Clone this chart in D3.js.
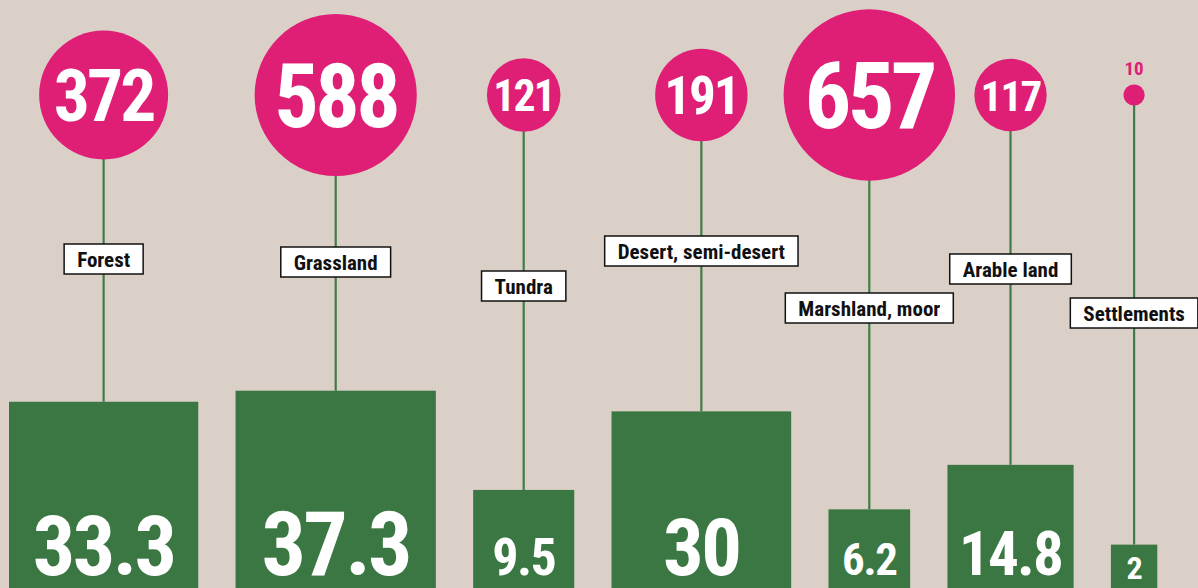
<!DOCTYPE html>
<html>
<head>
<meta charset="utf-8">
<script src="https://cdn.jsdelivr.net/npm/d3@7"></script>
<style>
  body { margin: 0; background: #dbd0c7; }
  svg { display: block; }
  text { font-family: "Liberation Sans Narrow", "Arial Narrow", "Roboto Condensed", sans-serif; font-weight: bold; }
</style>
</head>
<body>
<div id="chart"></div>
<script>
// Data
const categories = ["Forest", "Grassland", "Tundra", "Desert, semi-desert", "Marshland, moor", "Arable land", "Settlements"];
const areaShare = [33.3, 37.3, 9.5, 30, 6.2, 14.8, 2];          // green squares
const carbonStock = [372, 588, 121, 191, 657, 117, 10];         // pink circles

// layout for the name tags (centre y of each box)
const labelY = [259, 262, 286, 251, 308, 269, 313];

const width = 1198;
const height = 588;
const baseY = 591;      // squares run off the bottom edge a little
const circleY = 95;
const gap = 37.3;
const startX = 9;

const pink = "#df1e76";
const green = "#3b7742";
const stemColor = "#3f7c46";

const svg = d3.select("#chart")
    .append("svg")
    .attr("width", width)
    .attr("height", height);

svg.append("rect")
    .attr("width", width)
    .attr("height", height)
    .attr("fill", "#dbd0c7");

// Scales
const side = d3.scaleSqrt()
    .domain([0, 37.3])
    .range([0, 200.3]);

const radius = d3.scaleSqrt()
    .domain([0, 657])
    .range([0, 85.7]);

const barFont = d3.scaleLinear()
    .domain([46, 200])
    .range([32, 88]);

// build rows
let x = startX;
const data = categories.map((name, i) => {
    const s = side(areaShare[i]);
    const d = { name, share: areaShare[i], stock: carbonStock[i], x0: x, s, cx: x + s / 2, labelY: labelY[i] };
    x += s + gap;
    return d;
});

const groups = svg.selectAll("g.item")
    .data(data)
    .enter()
    .append("g")
    .attr("class", "item");

// stems
groups.append("line")
    .attr("x1", d => d.cx)
    .attr("x2", d => d.cx)
    .attr("y1", circleY)
    .attr("y2", d => baseY - d.s)
    .attr("stroke", stemColor)
    .attr("stroke-width", 2.2);

// squares
groups.append("rect")
    .attr("x", d => d.x0)
    .attr("y", d => baseY - d.s)
    .attr("width", d => d.s)
    .attr("height", d => d.s)
    .attr("fill", green);

groups.append("text")
    .attr("x", d => d.cx)
    .attr("y", d => d.s < 60 ? 579 : 575)
    .attr("text-anchor", "middle")
    .attr("fill", "white")
    .style("letter-spacing", "-0.03em")
    .style("font-size", d => barFont(d.s) + "px")
    .text(d => d.share);

// circles
groups.append("circle")
    .attr("cx", d => d.cx)
    .attr("cy", circleY)
    .attr("r", d => radius(d.stock))
    .attr("fill", pink);

groups.filter(d => radius(d.stock) >= 20)
    .append("text")
    .attr("x", d => d.cx)
    .attr("y", d => circleY + 0.36 * (radius(d.stock) + 7))
    .attr("text-anchor", "middle")
    .attr("fill", "white")
    .style("letter-spacing", "-0.04em")
    .style("font-size", d => (radius(d.stock) + 7) + "px")
    .text(d => d.stock);

groups.filter(d => radius(d.stock) < 20)
    .append("text")
    .attr("x", d => d.cx)
    .attr("y", d => circleY - radius(d.stock) - 9)
    .attr("text-anchor", "middle")
    .attr("fill", pink)
    .style("font-size", "19px")
    .text(d => d.stock);

// name tags
const tags = groups.append("g")
    .attr("transform", d => `translate(${d.cx}, ${d.labelY})`);

const tagBox = tags.append("rect")
    .attr("fill", "white")
    .attr("stroke", "#111")
    .attr("stroke-width", 1.5);

const tagText = tags.append("text")
    .attr("text-anchor", "middle")
    .attr("y", 7.5)
    .attr("fill", "#111")
    .style("font-size", "21px")
    .text(d => d.name);

tagText.each(function(d) {
    d.tw = this.getComputedTextLength();
});

tagBox
    .attr("x", d => -d.tw / 2 - 13)
    .attr("y", -15)
    .attr("width", d => d.tw + 26)
    .attr("height", 30);
</script>
</body>
</html>
